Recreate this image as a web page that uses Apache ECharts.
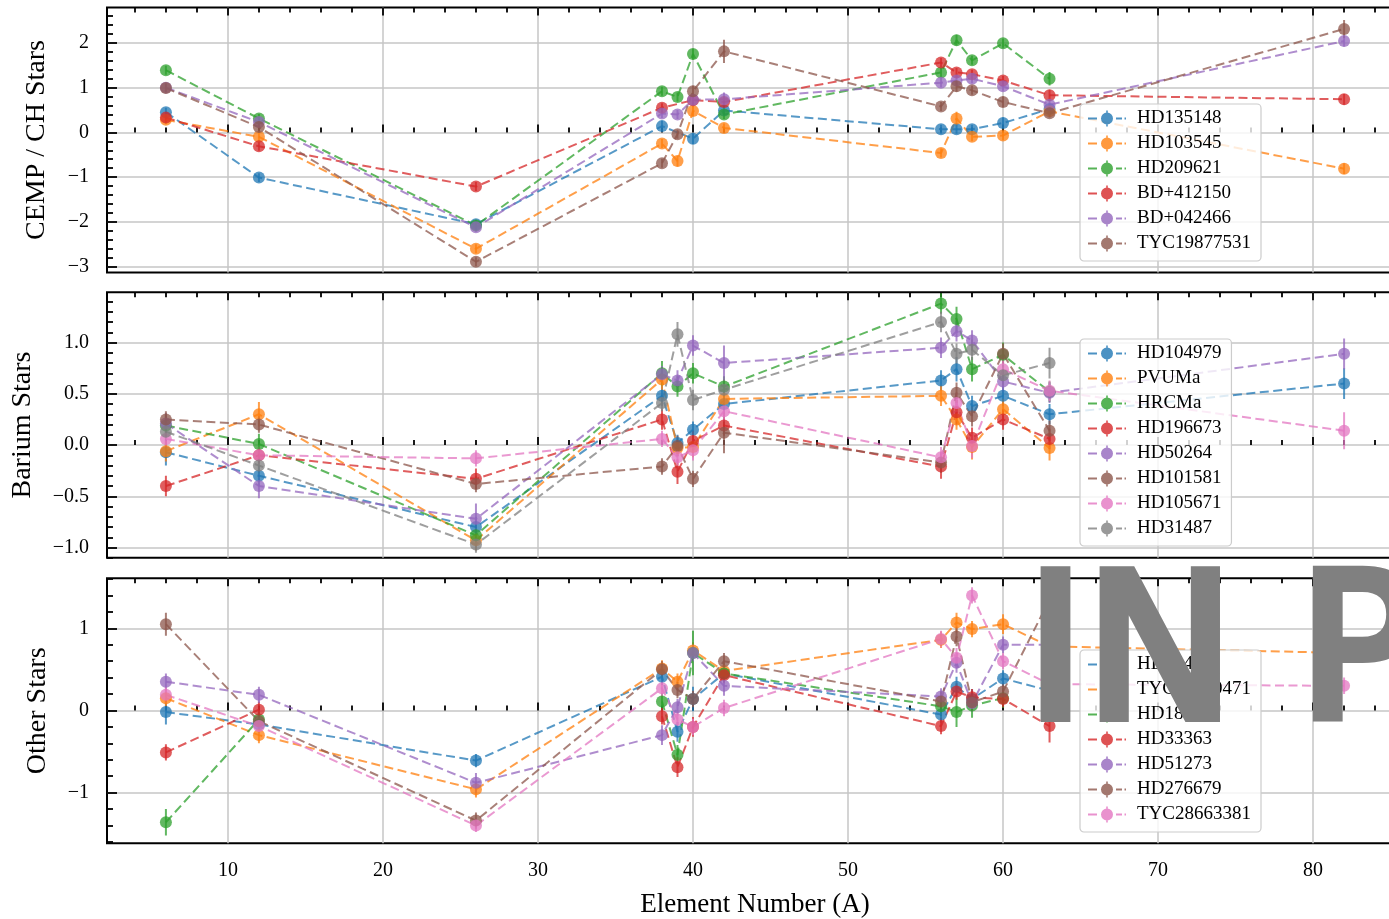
<!DOCTYPE html>
<html>
<head>
<meta charset="utf-8">
<title>Abundance patterns</title>
<script src="https://cdn.jsdelivr.net/npm/echarts@6/dist/echarts.min.js"></script>
<style>
  html, body { margin: 0; padding: 0; background: #fff; }
  #chart { width: 1389px; height: 919px; }
</style>
</head>
<body>
<div id="chart"></div>
<script>
// Atomic numbers of the measured elements: C, Mg, Fe, Sr, Y, Zr, Mo, Ba, La, Ce, Nd, Eu, Pb
const elements = [6, 12, 26, 38, 39, 40, 42, 56, 57, 58, 60, 63, 82];

// Tick labels
const xTicks = [10, 20, 30, 40, 50, 60, 70, 80];
const yTicksCemp = [-3, -2, -1, 0, 1, 2];
const yTicksBarium = [-1.0, -0.5, 0.0, 0.5, 1.0];
const yTicksOther = [-1, 0, 1];

// ---- CEMP / CH stars: abundances and 1-sigma errors (null = not measured)
const hd135148    = [0.45, -1.01, -2.05, 0.14, null, -0.14, 0.49, 0.07, 0.07, 0.07, 0.21, 0.52, null];
const hd135148Err = [0.10, 0.10, 0.10, 0.12, null, 0.12, 0.10, 0.10, 0.10, 0.10, 0.12, 0.12, null];
const hd103545    = [0.28, -0.10, -2.60, -0.25, -0.64, 0.48, 0.10, -0.46, 0.31, -0.10, -0.07, 0.47, -0.81];
const hd103545Err = [0.10, 0.10, 0.10, 0.10, 0.12, 0.12, 0.10, 0.10, 0.15, 0.10, 0.10, 0.10, 0.12];
const hd209621    = [1.39, 0.31, -2.08, 0.92, 0.79, 1.75, 0.40, 1.34, 2.06, 1.61, 1.99, 1.20, null];
const hd209621Err = [0.10, 0.10, 0.10, 0.10, 0.10, 0.12, 0.10, 0.10, 0.12, 0.10, 0.10, 0.15, null];
const bd412150    = [0.33, -0.31, -1.21, 0.55, null, 0.72, 0.68, 1.56, 1.34, 1.30, 1.16, 0.83, 0.74];
const bd412150Err = [0.10, 0.10, 0.10, 0.10, null, 0.10, 0.10, 0.10, 0.10, 0.10, 0.10, 0.12, 0.12];
const bd042466    = [1.00, 0.23, -2.12, 0.42, 0.40, 0.73, 0.74, 1.11, 1.16, 1.20, 1.03, 0.62, 2.04];
const bd042466Err = [0.10, 0.10, 0.10, 0.10, 0.10, 0.10, 0.15, 0.10, 0.10, 0.10, 0.10, 0.10, 0.12];
const tyc19877531    = [0.99, 0.12, -2.89, -0.69, -0.04, 0.92, 1.81, 0.58, 1.03, 0.94, 0.68, 0.43, 2.31];
const tyc19877531Err = [0.10, 0.10, 0.10, 0.10, 0.10, 0.12, 0.26, 0.10, 0.12, 0.10, 0.12, 0.10, 0.20];

// ---- Barium stars
const hd104979    = [-0.07, -0.30, -0.80, 0.48, 0.02, 0.15, 0.40, 0.63, 0.74, 0.38, 0.48, 0.30, 0.60];
const hd104979Err = [0.13, 0.10, 0.10, 0.10, 0.08, 0.08, 0.10, 0.10, 0.12, 0.10, 0.10, 0.10, 0.15];
const pvuma       = [-0.06, 0.30, -0.93, 0.64, -0.03, -0.02, 0.45, 0.48, 0.25, -0.02, 0.35, -0.03, null];
const pvumaErr    = [0.10, 0.12, 0.10, 0.10, 0.08, 0.10, 0.08, 0.10, 0.10, 0.12, 0.10, 0.12, null];
const hrcma       = [0.19, 0.01, -0.88, 0.70, 0.57, 0.70, 0.57, 1.38, 1.23, 0.74, 0.88, 0.52, null];
const hrcmaErr    = [0.10, 0.10, 0.10, 0.12, 0.10, 0.10, 0.10, 0.10, 0.12, 0.12, 0.12, 0.10, null];
const hd196673    = [-0.40, -0.10, -0.33, 0.25, -0.26, 0.04, 0.19, -0.21, 0.32, 0.07, 0.25, 0.06, null];
const hd196673Err = [0.10, 0.08, 0.10, 0.10, 0.12, 0.10, 0.10, 0.12, 0.12, 0.10, 0.10, 0.10, null];
const hd50264     = [0.21, -0.40, -0.72, 0.69, 0.63, 0.97, 0.80, 0.95, 1.11, 1.02, 0.62, 0.51, 0.89];
const hd50264Err  = [0.10, 0.12, 0.15, 0.08, 0.10, 0.10, 0.17, 0.10, 0.10, 0.10, 0.10, 0.10, 0.15];
const hd101581    = [0.25, 0.20, -0.38, -0.21, -0.01, -0.33, 0.12, -0.17, 0.51, 0.28, 0.89, 0.14, null];
const hd101581Err = [0.08, 0.08, 0.08, 0.08, 0.10, 0.08, 0.20, 0.10, 0.10, 0.10, 0.10, 0.10, null];
const hd105671    = [0.06, -0.10, -0.13, 0.06, -0.12, -0.05, 0.33, -0.12, 0.41, -0.01, 0.74, 0.53, 0.14];
const hd105671Err = [0.08, 0.08, 0.08, 0.08, 0.08, 0.10, 0.10, 0.10, 0.10, 0.12, 0.10, 0.10, 0.18];
const hd31487     = [0.13, -0.20, -0.97, 0.41, 1.08, 0.44, 0.54, 1.20, 0.89, 0.93, 0.68, 0.80, null];
const hd31487Err  = [0.08, 0.08, 0.08, 0.08, 0.12, 0.10, 0.10, 0.10, 0.10, 0.10, 0.10, 0.15, null];

// ---- Other stars
const hd55496     = [-0.02, -0.17, -0.61, 0.41, -0.26, 0.14, 0.45, -0.05, 0.29, 0.14, 0.39, 0.24, null];
const hd55496Err  = [0.15, 0.10, 0.08, 0.10, 0.12, 0.15, 0.10, 0.10, 0.12, 0.12, 0.10, 0.10, null];
const tyc36870471    = [0.15, -0.30, -0.96, 0.51, 0.35, 0.73, 0.48, 0.86, 1.07, 0.99, 1.05, 0.78, 0.70];
const tyc36870471Err = [0.10, 0.10, 0.10, 0.10, 0.10, 0.10, 0.10, 0.10, 0.12, 0.10, 0.12, 0.10, 0.10];
const hd18556     = [-1.36, -0.11, null, 0.11, -0.54, 0.70, 0.45, 0.05, -0.02, 0.06, 0.15, null, null];
const hd18556Err  = [0.16, 0.10, null, 0.10, 0.12, 0.27, 0.10, 0.12, 0.18, 0.15, 0.12, null, null];
const hd33363     = [-0.51, 0.01, null, -0.07, -0.69, -0.20, 0.43, -0.19, 0.23, 0.16, 0.14, -0.19, null];
const hd33363Err  = [0.10, 0.10, null, 0.10, 0.12, 0.12, 0.10, 0.10, 0.10, 0.10, 0.10, 0.20, null];
const hd51273     = [0.35, 0.19, -0.88, -0.30, 0.04, 0.70, 0.30, 0.17, 0.58, 0.09, 0.80, 0.80, null];
const hd51273Err  = [0.10, 0.10, 0.12, 0.12, 0.10, 0.10, 0.12, 0.10, 0.12, 0.10, 0.10, 0.10, null];
const hd276679    = [1.05, -0.13, -1.34, 0.50, 0.25, 0.14, 0.60, 0.11, 0.90, 0.10, 0.23, 1.35, null];
const hd276679Err = [0.14, 0.10, 0.10, 0.10, 0.10, 0.10, 0.10, 0.12, 0.12, 0.10, 0.10, 0.10, null];
const tyc28663381    = [0.19, -0.19, -1.40, 0.27, -0.11, -0.20, 0.03, 0.87, 0.64, 1.40, 0.60, 0.32, 0.30];
const tyc28663381Err = [0.10, 0.10, 0.08, 0.10, 0.10, 0.10, 0.10, 0.10, 0.12, 0.10, 0.10, 0.10, 0.10];

// Default matplotlib colour cycle
const palette = ['#1f77b4', '#ff7f0e', '#2ca02c', '#d62728', '#9467bd', '#8c564b', '#e377c2', '#7f7f7f'];

const panels = [
  {
    title: 'CEMP / CH Stars', yMin: -3.13, yMax: 2.79, yTicks: yTicksCemp, minorStep: 0.2, decimals: 0,
    stars: [
      ['HD135148', hd135148, hd135148Err], ['HD103545', hd103545, hd103545Err],
      ['HD209621', hd209621, hd209621Err], ['BD+412150', bd412150, bd412150Err],
      ['BD+042466', bd042466, bd042466Err], ['TYC19877531', tyc19877531, tyc19877531Err]
    ],
    broken: []
  },
  {
    title: 'Barium Stars', yMin: -1.10, yMax: 1.49, yTicks: yTicksBarium, minorStep: 0.1, decimals: 1,
    stars: [
      ['HD104979', hd104979, hd104979Err], ['PVUMa', pvuma, pvumaErr],
      ['HRCMa', hrcma, hrcmaErr], ['HD196673', hd196673, hd196673Err],
      ['HD50264', hd50264, hd50264Err], ['HD101581', hd101581, hd101581Err],
      ['HD105671', hd105671, hd105671Err], ['HD31487', hd31487, hd31487Err]
    ],
    broken: []
  },
  {
    title: 'Other Stars', yMin: -1.616, yMax: 1.608, yTicks: yTicksOther, minorStep: 0.2, decimals: 0,
    stars: [
      ['HD55496', hd55496, hd55496Err], ['TYC36870471', tyc36870471, tyc36870471Err],
      ['HD18556', hd18556, hd18556Err], ['HD33363', hd33363, hd33363Err],
      ['HD51273', hd51273, hd51273Err], ['HD276679', hd276679, hd276679Err],
      ['TYC28663381', tyc28663381, tyc28663381Err]
    ],
    // these stars have no Fe measurement, so their lines break there
    broken: ['HD18556', 'HD33363']
  }
];

// ---- layout
const X_MIN = 2.2, X_MAX = 85.8;
const PLOT_LEFT = 107, PLOT_WIDTH = 1296;
const panelBoxes = [
  { top: 7.5, height: 265, nameGap: 56, legendTop: 104 },
  { top: 292.3, height: 265.5, nameGap: 70, legendTop: 339 },
  { top: 578.3, height: 265, nameGap: 55, legendTop: 650 }
];
const SERIF = '"Liberation Serif", "Times New Roman", serif';
const INK = '#000';
const GRID_GRAY = '#c6c6c6';
const ALPHA = 0.75;

function steps(lo, hi, step) {
  const out = [];
  const n0 = Math.ceil(lo / step - 1e-9), n1 = Math.floor(hi / step + 1e-9);
  for (let n = n0; n <= n1; n++) out.push(+(n * step).toFixed(6));
  return out;
}
function minorOf(lo, hi, step, majors) {
  return steps(lo, hi, step).filter(v => !majors.some(m => Math.abs(m - v) < 1e-6));
}
const xMinor = minorOf(X_MIN, X_MAX, 2, xTicks);

function fmt(decimals) {
  return v => (decimals ? Number(v).toFixed(decimals) : String(Math.round(v))).replace('-', '\u2212');
}

// legend handle: dashed segment, circle marker and a vertical error bar
const handleIcon = 'path://M0 7H9V9H0Z M25 8A6 6 0 1 1 13 8A6 6 0 1 1 25 8Z M18.2 0H19.8V16H18.2Z M28 7H34V9H28Z M36.5 7H38V9H36.5Z';

const tickLine = { color: INK, width: 1.8 };

const option = {
  animation: false,
  backgroundColor: '#fff',
  color: palette,
  grid: [], xAxis: [], yAxis: [], series: [], legend: [],
  graphic: [{
    type: 'text', x: 1026, y: 665, z: 100, silent: true,
    style: {
      text: 'IN PREP', font: '200px "DejaVu Sans"', fill: '#808080',
      stroke: '#808080', lineWidth: 10, lineJoin: 'round',
      align: 'left', verticalAlign: 'middle'
    }
  }]
};

panels.forEach((p, i) => {
  const box = panelBoxes[i];
  const last = i === panels.length - 1;
  option.grid.push({
    left: PLOT_LEFT, top: box.top, width: PLOT_WIDTH, height: box.height,
    show: true, borderColor: INK, borderWidth: 2, backgroundColor: 'transparent',
    containLabel: false, outerBoundsMode: 'none'
  });
  const xi = option.xAxis.length;
  const xBase = { gridIndex: i, type: 'value', min: X_MIN, max: X_MAX, axisLine: { show: false } };
  option.xAxis.push(Object.assign({}, xBase, {
    position: 'bottom',
    axisTick: { show: true, inside: true, length: 8, customValues: xTicks, lineStyle: tickLine },
    axisLabel: { show: last, customValues: xTicks, margin: 17, color: INK, fontFamily: SERIF, fontSize: 20 },
    splitLine: { show: true, lineStyle: { color: GRID_GRAY, width: 1.5 } },
    name: last ? 'Element Number (A)' : '', nameLocation: 'middle', nameGap: 48,
    nameTextStyle: { color: INK, fontFamily: SERIF, fontSize: 27 }
  }));
  option.xAxis.push(Object.assign({}, xBase, {
    position: 'bottom',
    axisTick: { show: true, inside: true, length: 5, customValues: xMinor, lineStyle: tickLine },
    axisLabel: { show: false }, splitLine: { show: false }
  }));
  option.xAxis.push(Object.assign({}, xBase, {
    position: 'top',
    axisTick: { show: true, inside: true, length: 8, customValues: xTicks, lineStyle: tickLine },
    axisLabel: { show: false }, splitLine: { show: false }
  }));
  option.xAxis.push(Object.assign({}, xBase, {
    position: 'top',
    axisTick: { show: true, inside: true, length: 5, customValues: xMinor, lineStyle: tickLine },
    axisLabel: { show: false }, splitLine: { show: false }
  }));

  const yi = option.yAxis.length;
  const yMinor = minorOf(p.yMin, p.yMax, p.minorStep, p.yTicks);
  const yBase = { gridIndex: i, type: 'value', min: p.yMin, max: p.yMax, position: 'left', axisLine: { show: false } };
  option.yAxis.push(Object.assign({}, yBase, {
    axisTick: { show: true, inside: true, length: 10, customValues: p.yTicks, lineStyle: tickLine },
    axisLabel: { customValues: p.yTicks, formatter: fmt(p.decimals), margin: 18, color: INK, fontFamily: SERIF, fontSize: 20 },
    splitLine: { show: true, lineStyle: { color: GRID_GRAY, width: 1.5 } },
    name: p.title, nameLocation: 'middle', nameGap: box.nameGap, nameRotate: 90,
    nameTextStyle: { color: INK, fontFamily: SERIF, fontSize: 28 }
  }));
  option.yAxis.push(Object.assign({}, yBase, {
    axisTick: { show: true, inside: true, length: 6, customValues: yMinor, lineStyle: tickLine },
    axisLabel: { show: false }, splitLine: { show: false }
  }));

  p.stars.forEach(([name, vals, errs], k) => {
    const color = palette[k];
    const broken = p.broken.includes(name);
    const lineData = [];
    const barData = [];
    elements.forEach((z, j) => {
      if (vals[j] == null) {
        if (broken) lineData.push([z, '-']);
        return;
      }
      lineData.push([z, vals[j]]);
      if (errs[j] != null) barData.push([z, vals[j], errs[j]]);
    });
    option.series.push({
      type: 'custom', name, xAxisIndex: xi, yAxisIndex: yi, silent: true, clip: true,
      data: barData, encode: { x: 0, y: 1 },
      itemStyle: { color },
      renderItem: (params, api) => {
        const x = api.value(0), y = api.value(1), e = api.value(2);
        const a = api.coord([x, y - e]), b = api.coord([x, y + e]);
        return {
          type: 'line', shape: { x1: a[0], y1: a[1], x2: b[0], y2: b[1] },
          style: { stroke: color, lineWidth: 2, opacity: ALPHA }
        };
      }
    });
    option.series.push({
      type: 'line', name, xAxisIndex: xi, yAxisIndex: yi, data: lineData,
      silent: true, clip: true, connectNulls: false,
      symbol: 'circle', symbolSize: 12, showSymbol: true, showAllSymbol: true,
      itemStyle: { color, opacity: ALPHA, borderWidth: 0 },
      lineStyle: { color, width: 2, type: [9, 4.5], opacity: ALPHA },
      emphasis: { disabled: true }
    });
  });

  option.legend.push({
    orient: 'vertical', left: 1080, top: box.legendTop,
    padding: [5, 10, 8, 8], itemGap: 6, itemWidth: 38, itemHeight: 16,
    icon: handleIcon, selectedMode: false,
    data: p.stars.map(s => s[0]),
    itemStyle: { opacity: 0.8 },
    textStyle: { color: INK, fontFamily: SERIF, fontSize: 19, lineHeight: 16, padding: [0, 0, 0, 6] },
    backgroundColor: 'rgba(255,255,255,0.8)', borderColor: '#cccccc', borderWidth: 1.2, borderRadius: 4,
    z: 10
  });
});

const chart = echarts.init(document.getElementById('chart'), null, { renderer: 'canvas' });
chart.setOption(option);
</script>
</body>
</html>
